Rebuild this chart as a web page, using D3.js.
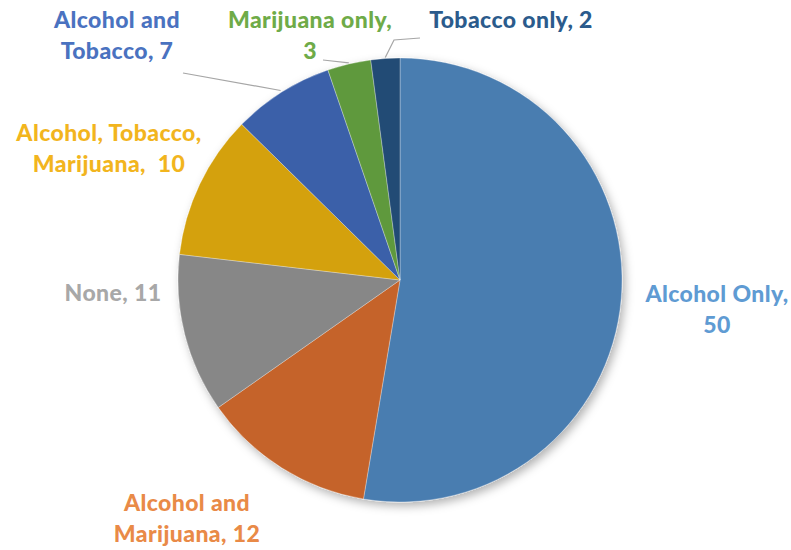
<!DOCTYPE html>
<html>
<head>
<meta charset="utf-8">
<script src="https://cdn.jsdelivr.net/npm/d3@7"></script>
<style>
  html, body { margin: 0; padding: 0; background: #fff; }
  svg { display: block; }
  text { white-space: pre; }
</style>
</head>
<body>
<svg id="chart" width="791" height="550"></svg>
<script>
// Substance use categories, clockwise from 12 o'clock
const categories = ["Alcohol Only", "Alcohol and Marijuana", "None", "Alcohol, Tobacco, Marijuana",
                    "Alcohol and Tobacco", "Marijuana only", "Tobacco only"];
const counts = [50, 12, 11, 10, 7, 3, 2];
const sliceColors = ["#4a7db0", "#c5642a", "#878787", "#d4a10b", "#3a60a9", "#5f993d", "#234b74"];
const labelColors = ["#5f9bd3", "#e98a47", "#a8a8a8", "#f2b51e", "#4a72c0", "#6fab48", "#2b5b8c"];
// Label text lines per slice
const labelLines = [
  ["Alcohol Only,", "50"],
  ["Alcohol and", "Marijuana, 12"],
  ["None, 11"],
  ["Alcohol, Tobacco,", "Marijuana,  10"],
  ["Alcohol and", "Tobacco, 7"],
  ["Marijuana only,", "3"],
  ["Tobacco only, 2"]
];

const svg = d3.select("#chart");
const cx = 400, cy = 280, radius = 222;

const defs = svg.append("defs");
const shadow = defs.append("filter").attr("id", "pieShadow")
  .attr("x", "-20%").attr("y", "-20%").attr("width", "140%").attr("height", "140%");
shadow.append("feDropShadow")
  .attr("dx", 3).attr("dy", 4).attr("stdDeviation", 5)
  .attr("flood-color", "#000").attr("flood-opacity", 0.3);

const data = categories.map((c, i) => ({ name: c, value: counts[i], i }));

const pie = d3.pie().sort(null).value(d => d.value);
const arcs = pie(data);
const arc = d3.arc().innerRadius(0).outerRadius(radius);

const g = svg.append("g").attr("transform", `translate(${cx},${cy})`);

g.append("g").attr("filter", "url(#pieShadow)")
  .selectAll("path")
  .data(arcs)
  .join("path")
  .attr("d", arc)
  .attr("fill", d => sliceColors[d.data.i])
  .attr("stroke", "#ffffff")
  .attr("stroke-opacity", 0.5)
  .attr("stroke-width", 0.6);

// Label anchor positions (center of each text block, first baseline)
const labelPos = [
  [717, 302], [187, 511], [113, 301], [109, 141], [117, 28], [310, 28], [511, 28]
];
const lineGap = 31;

const labels = svg.append("g")
  .attr("font-family", "Lato, 'Open Sans', sans-serif")
  .attr("font-weight", 900)
  .attr("font-size", 23)
  .attr("letter-spacing", 0.4)
  .attr("text-anchor", "middle");

arcs.forEach(a => {
  const i = a.data.i;
  const t = labels.append("text")
    .attr("fill", labelColors[i])
    .attr("x", labelPos[i][0]).attr("y", labelPos[i][1]);
  labelLines[i].forEach((line, k) => {
    t.append("tspan").attr("x", labelPos[i][0]).attr("dy", k === 0 ? 0 : lineGap).text(line);
  });
});

// Leader lines for the small slices at the top, attached at each slice's rim midpoint
const rimPoint = (a, r) => {
  const ang = (a.startAngle + a.endAngle) / 2;
  return [cx + r * Math.sin(ang), cy - r * Math.cos(ang)];
};
const leaders = [
  { i: 4, pts: a => [[183, 73], rimPoint(a, radius + 2)] },
  { i: 5, pts: a => [[323, 60], rimPoint(a, radius + 1)] },
  { i: 6, pts: a => [rimPoint(a, radius + 1), [394, 40], [420, 38]] }
];
const line = d3.line();
leaders.forEach(l => {
  svg.append("path")
    .attr("d", line(l.pts(arcs[l.i])))
    .attr("fill", "none")
    .attr("stroke", "#a6a6a6")
    .attr("stroke-width", 1.2);
});
</script>
</body>
</html>
